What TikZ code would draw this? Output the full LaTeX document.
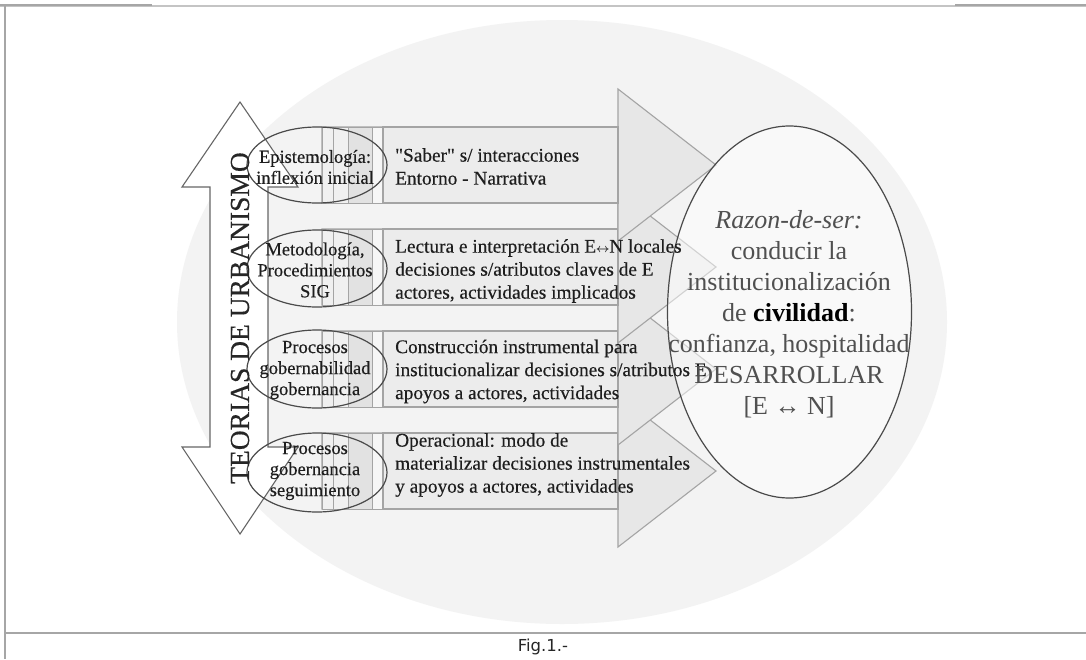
\documentclass[tikz,border=0pt]{standalone}
\usepackage{fontspec}
\setmainfont{Liberation Serif}[Ligatures=TeXOff]
\newfontfamily\thickserif{Liberation Serif}[Ligatures=TeXOff,FakeBold=0.35]
\newfontfamily\capfont{DejaVu Sans}
\usetikzlibrary{shapes.geometric}
\definecolor{bgell}{HTML}{F3F3F3}
\definecolor{framedark}{HTML}{A6A6A6}
\definecolor{framelight}{HTML}{C4C4C4}
\definecolor{arrfill}{HTML}{E7E7E7}
\definecolor{arrline}{HTML}{A4A4A4}
\definecolor{boxfill}{HTML}{ECECEC}
\definecolor{stripa}{HTML}{F0F0F0}
\definecolor{stripb}{HTML}{E2E2E2}
\definecolor{stripc}{HTML}{F6F6F6}
\definecolor{ellline}{HTML}{4A4A4A}
\definecolor{txtgray}{HTML}{505050}
\definecolor{txtdark}{HTML}{1E1E1E}
\newcommand{\lrarr}{\kern-0.3pt{\fontsize{13}{13}\selectfont\boldmath$\leftrightarrow$}\kern-0.3pt}
\tikzset{
  framelinestyle/.style={line width=2pt},
  rowarrow/.style={draw=arrline, fill=arrfill, line width=1.1pt, line join=miter},
  stripbox/.style={draw=arrline, line width=0.9pt},
  txtbox/.style={draw=arrline, fill=boxfill, line width=1.1pt},
  smallell/.style={draw=ellline, line width=1.2pt},
  bigell/.style={draw=ellline, line width=1.2pt, fill=white, fill opacity=0.5},
  dblarrow/.style={draw=black!60, fill=white, line width=1.1pt, line join=miter},
  elltext/.style={align=center, inner sep=0pt, text=txtdark, font=\thickserif\fontsize{18.5}{21}\selectfont},
  boxtext/.style={anchor=west, align=left, inner sep=0pt, text=txtdark, font=\thickserif\fontsize{19.3}{23}\selectfont},
  bigtext/.style={align=center, inner sep=0pt, text=txtgray, font=\fontsize{26}{31}\selectfont},
  sidetext/.style={rotate=90, inner sep=0pt, text=black!85, font=\thickserif\fontsize{27.5}{30}\selectfont},
  captext/.style={inner sep=0pt, text=black!85, font=\capfont\fontsize{16.5}{18}\selectfont}
}
\begin{document}
\begin{tikzpicture}[x=1pt,y=-1pt]
\useasboundingbox (0,0) rectangle (1086,659);
\fill[white] (0,0) rectangle (1086,659);
% frame
\draw[framelinestyle, framelight] (0,6) -- (1086,6);
\draw[framelinestyle, framedark] (0,5) -- (152,5);
\draw[framelinestyle, framedark] (955,5) -- (1086,5);
\draw[framelinestyle, framedark] (4.5,5) -- (4.5,659);
\draw[framelinestyle, framedark] (4.5,633) -- (1086,633);
% background ellipse
\fill[bgell] (562,322) ellipse [x radius=385, y radius=302];
% left double arrow
\draw[dblarrow] (240,102) -- (298,187) -- (268,187) -- (268,447) -- (298,447)
  -- (240,534) -- (182,447) -- (210,447) -- (210,187) -- (182,187) -- cycle;
% row arrows (bottom row first)
\foreach \c in {471,369,267,165} {
  \draw[rowarrow] (322,\c-38) -- (618,\c-38) -- (618,\c-76) -- (716,\c)
    -- (618,\c+76) -- (618,\c+38) -- (322,\c+38) -- cycle;
  \draw[stripbox, fill=stripa] (322,\c-38) rectangle (333,\c+38);
  \draw[stripbox, fill=stripa] (333,\c-38) rectangle (348,\c+38);
  \draw[stripbox, fill=stripb] (348,\c-38) rectangle (372,\c+38);
  \draw[stripbox, fill=stripc] (372,\c-38) rectangle (383,\c+38);
  \draw[txtbox] (383,\c-38) rectangle (618,\c+38);
}
% small ellipses
\node[smallell, ellipse, minimum width=140pt, minimum height=76pt, inner sep=0pt] (e1) at (317,165) {};
\node[smallell, ellipse, minimum width=140pt, minimum height=77pt, inner sep=0pt] (e2) at (317,268.5) {};
\node[smallell, ellipse, minimum width=140pt, minimum height=78pt, inner sep=0pt] (e3) at (317,369) {};
\node[smallell, ellipse, minimum width=140pt, minimum height=79pt, inner sep=0pt] (e4) at (317,472.5) {};
% big ellipse
\node[bigell, ellipse, minimum width=244pt, minimum height=372pt, inner sep=0pt] (goal) at (789.5,312) {};
% texts
\node[sidetext] (teo) at (240,318) {TEORIAS DE URBANISMO};
\node[elltext] (t1) at (315,167) {Epistemología:\\inflexión inicial};
\node[elltext] (t2) at (315,270) {Metodología,\\Procedimientos\\SIG};
\node[elltext] (t3) at (315,370) {Procesos\\gobernabilidad\\gobernancia};
\node[elltext] (t4) at (315,471) {Procesos\\gobernancia\\seguimiento};
\node[boxtext] (b1) at (395,166.5) {"Saber" s/ interacciones\\Entorno - Narrativa};
\node[boxtext] (b2) at (395,271) {Lectura e interpretación E\lrarr N locales\\decisiones s/atributos claves de E\\actores, actividades implicados};
\node[boxtext] (b3) at (395,371.5) {Construcción instrumental para\\institucionalizar decisiones s/atributos E\\apoyos a actores, actividades};
\node[boxtext] (b4) at (395,465) {Operacional: modo de\\materializar decisiones instrumentales\\y apoyos a actores, actividades};
\node[bigtext] (gt) at (789,314.5) {\textit{Razon-de-ser:}\\conducir la\\institucionalización\\de \textcolor{black}{\textbf{civilidad}}:\\confianza, hospitalidad\\DESARROLLAR\\{[}E ↔ N{]}};
\node[captext] (cap) at (543,647) {Fig.1.-};
\end{tikzpicture}
\end{document}
